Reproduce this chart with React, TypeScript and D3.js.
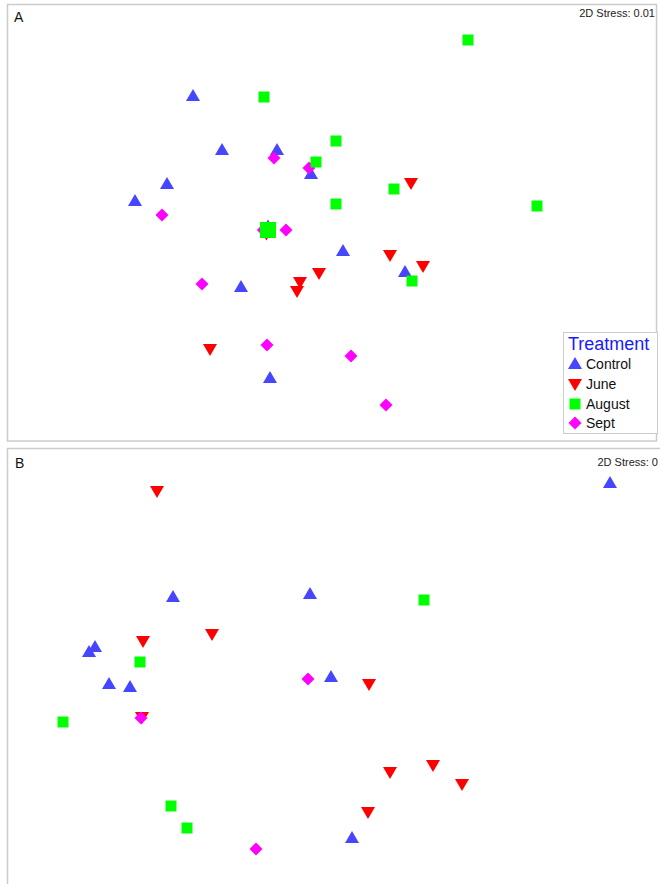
import React from "react";
import * as d3 from "d3";

// NMDS ordination coordinates (MDS1, MDS2) per treatment, panel A
const aControl: [number, number][] = [
  [-0.685, 0.63], [-0.54, 0.36], [-0.265, 0.36], [-0.815, 0.19], [-0.975, 0.105],
  [-0.095, 0.24], [0.065, -0.145], [0.375, -0.25], [-0.445, -0.325], [-0.3, -0.78],
  [-0.31, -0.022],
];
const aJune: [number, number][] = [
  [0.405, 0.195], [0.3, -0.165], [0.465, -0.22], [-0.055, -0.255], [-0.15, -0.3],
  [-0.165, -0.345], [-0.6, -0.635], [-0.318, -0.058],
];
const aSept: [number, number][] = [
  [-0.28, 0.32], [-0.105, 0.27], [-0.84, 0.035], [-0.22, -0.04], [-0.64, -0.31],
  [-0.315, -0.615], [0.105, -0.67], [0.28, -0.915], [-0.333, -0.04],
];
const aAugust: [number, number][] = [
  [0.69, 0.91], [-0.33, 0.625], [0.03, 0.405], [-0.07, 0.3], [0.32, 0.165],
  [0.03, 0.09], [1.035, 0.08], [0.41, -0.295],
  [-0.3225, -0.0275], [-0.2975, -0.0275], [-0.3225, -0.0525], [-0.2975, -0.0525],
];

// Panel B
const bControl: [number, number][] = [
  [1.4, 0.915], [-0.785, 0.345], [-0.1, 0.36], [-1.175, 0.095], [-1.205, 0.07],
  [-1.105, -0.09], [-1.0, -0.105], [0.005, -0.055], [0.11, -0.86],
];
const bJune: [number, number][] = [
  [-0.865, 0.875], [-0.59, 0.16], [-0.935, 0.125], [0.195, -0.09], [-0.94, -0.255],
  [0.3, -0.53], [0.515, -0.495], [0.66, -0.59], [0.19, -0.73],
];
const bAugust: [number, number][] = [
  [0.47, 0.33], [-0.95, 0.02], [-1.335, -0.28], [-0.795, -0.7], [-0.715, -0.81],
];
const bSept: [number, number][] = [
  [-0.11, -0.065], [-0.945, -0.26], [-0.37, -0.915],
];

const treatments = ["Control", "June", "August", "Sept"];
const colors: Record<string, string> = {
  Control: "#4646ff",
  June: "#ff0000",
  August: "#00ff00",
  Sept: "#ff00ff",
};

const shapes: Record<string, string> = {
  Control: "M0,-7L7,5L-7,5Z",
  June: "M0,7L7,-5L-7,-5Z",
  August: "M-5.5,-5.5L5.5,-5.5L5.5,5.5L-5.5,5.5Z",
  Sept: "M0,-6.5L6.5,0L0,6.5L-6.5,0Z",
};

const W = 660;
const H = 884;
const font = "Liberation Sans, Arial, sans-serif";

const xScale = d3.scaleLinear().domain([-1.65, 1.65]).range([0, W]);
const yScaleA = d3.scaleLinear().domain([1.1, -1.1]).range([2, 442]);
const yScaleB = d3.scaleLinear().domain([1.1, -1.1]).range([446, 886]);

function Points({
  sets,
  y,
}: {
  sets: [string, [number, number][]][];
  y: d3.ScaleLinear<number, number>;
}) {
  return (
    <g>
      {sets.map(([name, pts]) =>
        pts.map((p, i) => (
          <path
            key={name + i}
            d={shapes[name]}
            transform={`translate(${xScale(p[0])},${y(p[1])})`}
            fill={colors[name]}
          />
        ))
      )}
    </g>
  );
}

export default function App() {
  const legendY = [364, 384, 404, 423];
  return (
    <svg
      width={W}
      height={H}
      style={{ position: "absolute", left: 0, top: 0, background: "#fff" }}
      fontFamily={font}
    >
      <rect x={7.5} y={4.5} width={649} height={436.5} fill="#fff" stroke="#cccccc" strokeWidth={1.5} />
      <rect x={7.5} y={448.5} width={670} height={460} fill="#fff" stroke="#cccccc" strokeWidth={1.5} />

      <text x={14} y={22} fontSize={14} fill="#111">A</text>
      <text x={655} y={17} fontSize={11} textAnchor="end" fill="#222">2D Stress: 0.01</text>
      <text x={15} y={468} fontSize={14} fill="#111">B</text>
      <text x={658} y={466} fontSize={11} textAnchor="end" fill="#222">2D Stress: 0</text>

      {/* Panel A points: August drawn last so its squares cover the stacked cluster */}
      <Points
        y={yScaleA}
        sets={[
          ["Control", aControl],
          ["June", aJune],
          ["Sept", aSept],
          ["August", aAugust],
        ]}
      />
      <Points
        y={yScaleB}
        sets={[
          ["Control", bControl],
          ["June", bJune],
          ["August", bAugust],
          ["Sept", bSept],
        ]}
      />

      {/* Legend */}
      <g>
        <rect x={563.5} y={332.5} width={94} height={101} fill="#fff" stroke="#cccccc" strokeWidth={1} />
        <text x={568} y={350} fontSize={18} fill="#1a1aff">Treatment</text>
        {treatments.map((t, i) => (
          <g key={t}>
            <path d={shapes[t]} transform={`translate(${575},${legendY[i]})`} fill={colors[t]} />
            <text x={586} y={legendY[i] + 5} fontSize={14} fill="#111">{t}</text>
          </g>
        ))}
      </g>
    </svg>
  );
}
